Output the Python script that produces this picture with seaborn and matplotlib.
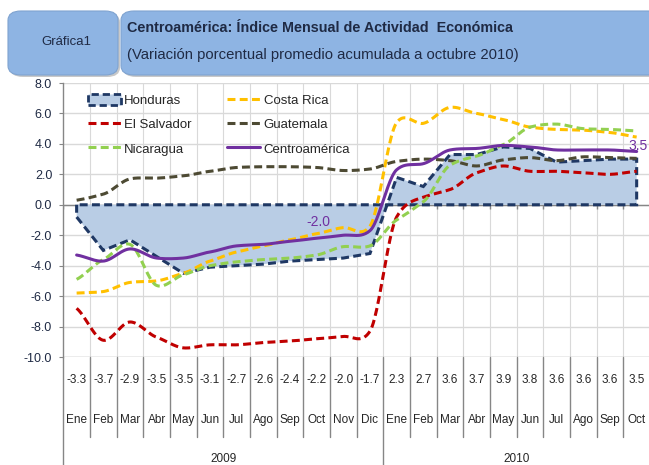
import numpy as np
import pandas as pd
import matplotlib.pyplot as plt
import seaborn as sns
from matplotlib.patches import FancyBboxPatch, Patch
from matplotlib.lines import Line2D
import matplotlib.transforms as mtransforms

# --- data ---
months = ["Ene", "Feb", "Mar", "Abr", "May", "Jun", "Jul", "Ago", "Sep", "Oct", "Nov", "Dic",
          "Ene", "Feb", "Mar", "Abr", "May", "Jun", "Jul", "Ago", "Sep", "Oct"]
years = ["2009", "2010"]

honduras = [-0.8, -3.0, -2.3, -3.4, -4.5, -4.1, -4.0, -3.9, -3.7, -3.6, -3.5, -3.2,
            1.8, 1.2, 3.3, 3.3, 3.8, 3.7, 2.8, 2.9, 3.0, 3.0]
costa_rica = [-5.8, -5.7, -5.1, -5.0, -4.5, -3.7, -3.1, -2.7, -2.3, -1.9, -1.5, -1.4,
              5.4, 5.35, 6.4, 6.0, 5.6, 5.1, 4.95, 4.9, 4.75, 4.45]
el_salvador = [-6.8, -8.9, -7.7, -8.7, -9.4, -9.2, -9.2, -9.05, -8.95, -8.8, -8.65, -8.3,
               -0.8, 0.5, 1.0, 2.1, 2.55, 2.2, 2.2, 2.1, 2.0, 2.2]
guatemala = [0.3, 0.7, 1.7, 1.75, 1.9, 2.2, 2.45, 2.5, 2.5, 2.45, 2.25, 2.35,
             2.85, 3.0, 2.9, 2.55, 2.95, 3.1, 2.9, 3.15, 3.1, 3.05]
nicaragua = [-4.9, -3.6, -2.6, -5.3, -4.6, -4.0, -3.75, -3.6, -3.5, -3.3, -2.75, -2.7,
             -1.0, 0.2, 2.6, 3.2, 3.95, 5.1, 5.3, 5.0, 4.95, 4.85]
centroamerica = [-3.3, -3.7, -2.9, -3.5, -3.5, -3.1, -2.7, -2.6, -2.4, -2.2, -2.0, -1.7,
                 2.3, 2.7, 3.6, 3.7, 3.9, 3.8, 3.6, 3.6, 3.6, 3.5]

# --- style ---
sns.set_style("white")
plt.rcParams['font.family'] = ['Liberation Sans', 'DejaVu Sans']

C_HOND_FILL = "#B9CDE5"
C_HOND_EDGE = "#1F3864"
C_CR = "#FFC000"
C_ES = "#C00000"
C_GT = "#4D4A33"
C_NI = "#92D050"
C_CA = "#7030A0"
TXT = "#1F2A44"
GRID = "#D9D9D9"
AXC = "#868686"
DASH = (0, (2.6, 1.4))


def smooth(y, n=24, c=0.35):
    # cardinal spline through the points (a softer version of Excel's smoothing)
    y = np.asarray(y, dtype=float)
    x = np.arange(len(y), dtype=float)
    m = np.zeros_like(y)
    m[1:-1] = c * (y[2:] - y[:-2])
    m[0] = c * 2 * (y[1] - y[0])
    m[-1] = c * 2 * (y[-1] - y[-2])
    t = np.linspace(0, 1, n, endpoint=False)
    h00 = 2 * t ** 3 - 3 * t ** 2 + 1
    h10 = t ** 3 - 2 * t ** 2 + t
    h01 = -2 * t ** 3 + 3 * t ** 2
    h11 = t ** 3 - t ** 2
    xs, ys = [], []
    for i in range(len(y) - 1):
        xs.extend(x[i] + t)
        ys.extend(h00 * y[i] + h10 * m[i] + h01 * y[i + 1] + h11 * m[i + 1])
    xs.append(x[-1])
    ys.append(y[-1])
    return pd.DataFrame({"x": xs, "y": ys})


W, H = 649, 465
fig = plt.figure(figsize=(W / 100, H / 100), dpi=100)

# --- header boxes ---
for x0, w in ((8, 110), (121, 560)):
    shadow = FancyBboxPatch(((x0 + 2) / W, 1 - 77 / H), w / W, 64 / H,
                            boxstyle="round,pad=0,rounding_size=0.02",
                            transform=fig.transFigure, fc="#C8C8C8", ec="none", zorder=0)
    fig.patches.append(shadow)
    box = FancyBboxPatch((x0 / W, 1 - 75 / H), w / W, 64 / H,
                         boxstyle="round,pad=0,rounding_size=0.02",
                         transform=fig.transFigure, fc="#8EB4E3", ec="#7FA3D0", lw=0.8, zorder=1)
    fig.patches.append(box)

fig.text(66 / W, 1 - 42 / H, "Gráfica1", ha="center", va="center",
         fontsize=9.5, color=TXT)
fig.text(127 / W, 1 - 28 / H, "Centroamérica: Índice Mensual de Actividad  Económica",
         ha="left", va="center", fontsize=10.4, color=TXT, fontweight="bold")
fig.text(127 / W, 1 - 55 / H, "(Variación porcentual promedio acumulada a octubre 2010)",
         ha="left", va="center", fontsize=10.7, color=TXT)

# --- plot area ---
ax = fig.add_axes([63.3 / W, 1 - 357 / H, (650 - 63.3) / W, (357 - 83) / H])
n = len(months)
x = np.arange(n)
ax.set_xlim(-0.5, n - 0.5)
ax.set_ylim(-10, 8)

ax.set_yticks(np.arange(-10, 8.1, 2))
ax.set_yticklabels([f"{v:.1f}" for v in np.arange(-10, 8.1, 2)], fontsize=9, color=TXT)
ax.set_xticks([])
for v in np.arange(-10, 8.1, 2):
    ax.axhline(v, color=GRID, lw=1, zorder=0)
for b in np.arange(0.5, n - 0.5, 1):
    ax.axvline(b, color=GRID, lw=0.8, zorder=0)
ax.axhline(-10, color="#BFBFBF", lw=1, zorder=0)

for s in ["top", "right", "bottom"]:
    ax.spines[s].set_visible(False)
ax.spines["left"].set_color(AXC)
ax.spines["left"].set_linewidth(1)
ax.tick_params(axis="y", length=3, color=AXC, pad=5, left=True)

# zero category line with tick marks
ax.axhline(0, color=AXC, lw=1, zorder=1)
ax.vlines(np.arange(-0.5, n, 1), -0.3, 0, color=AXC, lw=1, zorder=1)

# --- Honduras area ---
poly_x = np.concatenate([[x[0]], x, [x[-1], x[0]]])
poly_y = np.concatenate([[0], honduras, [0, 0]])
ax.fill(poly_x, poly_y, facecolor=C_HOND_FILL, edgecolor=C_HOND_EDGE,
        linestyle=DASH, lw=2.2, zorder=2)

# --- smoothed lines ---
series = [
    ("Costa Rica", costa_rica, C_CR, DASH),
    ("El Salvador", el_salvador, C_ES, DASH),
    ("Guatemala", guatemala, C_GT, DASH),
    ("Nicaragua", nicaragua, C_NI, DASH),
    ("Centroamérica", centroamerica, C_CA, "-"),
]
for name, vals, col, ls in series:
    d = smooth(vals)
    sns.lineplot(data=d, x="x", y="y", ax=ax, color=col, lw=2.2, sort=False,
                 estimator=None, linestyle=ls, zorder=3)
ax.set_xlabel("")
ax.set_ylabel("")

# data labels on Centroamérica
ax.text(9.05, -1.1, f"{centroamerica[10]:.1f}", color=C_CA, fontsize=10,
        ha="center", va="center", zorder=4)
lab = fig.text(648 / W, 1 - 146 / H, f"{centroamerica[21]:.1f}", color=C_CA, fontsize=10,
               ha="right", va="center", zorder=4)

# --- category table below the plot ---
trans = mtransforms.blended_transform_factory(ax.transData, ax.transAxes)
for b in np.arange(-0.5, n, 1):
    low = -0.394 if b in (-0.5, 11.5) else -0.292
    ax.plot([b, b], [0, low], transform=trans, color=AXC, lw=1, clip_on=False)
for i in range(n):
    ax.text(i, -0.084, f"{centroamerica[i]:.1f}", transform=trans, ha="center",
            va="center", fontsize=8.5, color="#262626")
    ax.text(i, -0.23, months[i], transform=trans, ha="center", va="center",
            fontsize=8.5, color="#262626")
ax.text(5.5, -0.372, years[0], transform=trans, ha="center", va="center",
        fontsize=8.5, color="#262626")
ax.text(16.5, -0.372, years[1], transform=trans, ha="center", va="center",
        fontsize=8.5, color="#262626")

# --- legend ---
handles = [
    Patch(facecolor=C_HOND_FILL, edgecolor=C_HOND_EDGE, linestyle=DASH, lw=2.0),
    Line2D([], [], color=C_ES, lw=2.2, linestyle=DASH),
    Line2D([], [], color=C_NI, lw=2.2, linestyle=DASH),
    Line2D([], [], color=C_CR, lw=2.2, linestyle=DASH),
    Line2D([], [], color=C_GT, lw=2.2, linestyle=DASH),
    Line2D([], [], color=C_CA, lw=2.2),
]
labels = ["Honduras", "El Salvador", "Nicaragua", "Costa Rica", "Guatemala", "Centroamérica"]
leg = ax.legend(handles, labels, ncol=2, frameon=False, loc="upper left",
                bbox_to_anchor=(88 / W, 1 - 94 / H), bbox_transform=fig.transFigure,
                fontsize=9.5, handlelength=2.5, handleheight=0.9, handletextpad=0.25,
                columnspacing=2.7, labelspacing=0.85, borderpad=0, borderaxespad=0)
for t in leg.get_texts():
    t.set_color("#262626")

fig.savefig("out.png", dpi=100)
